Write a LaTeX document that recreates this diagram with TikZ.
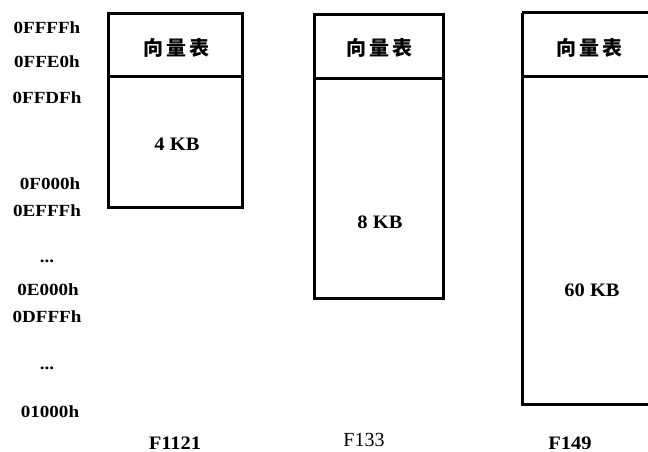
\documentclass[tikz,border=0pt]{standalone}
\usepackage{fontspec}
\setmainfont{Liberation Serif}
\newfontfamily\cjk{Noto Sans CJK SC}
\begin{document}
\begin{tikzpicture}[x=1pt,y=-1pt,
  membox/.style={line width=3pt, line join=miter},
  addr/.style={font=\fontsize{17}{17}\selectfont\bfseries, inner sep=0pt, xscale=1.12},
  vec/.style={font=\fontsize{20}{20}\selectfont\cjk\bfseries, inner sep=0pt},
  size/.style={font=\fontsize{19}{19}\selectfont\bfseries, inner sep=0pt, xscale=1.08},
  chip/.style={font=\fontsize{19}{19}\selectfont\bfseries, inner sep=0pt, xscale=1.08}]
\useasboundingbox (0,0) rectangle (648,452);
\clip (0,0) rectangle (648,452);
\fill[white] (0,0) rectangle (648,452);

% box 1: F1121
\draw[membox] (108,14) rectangle (242,207);
\draw[membox] (108,77) -- (242,77);
\node[vec] (v1) at (176,48) {向\hspace{3pt}量\hspace{3pt}表};
\node[size] (s1) at (177,144) {4 KB};

% box 2: F133
\draw[membox] (314,15) rectangle (443,298);
\draw[membox] (314,79) -- (443,79);
\node[vec] (v2) at (379,48) {向\hspace{3pt}量\hspace{3pt}表};
\node[size] (s2) at (380,222) {8 KB};

% box 3: F149
\draw[membox] (522,13) -- (660,13);
\draw[membox] (522,77) -- (660,77);
\draw[membox] (660,404) -- (522,404) -- (522,13);
\node[vec] (v3) at (589,48) {向\hspace{3pt}量\hspace{3pt}表};
\node[size] (s3) at (592,290) {60 KB};

% address labels
\node[addr] (a1) at (47,28) {0FFFFh};
\node[addr] (a2) at (47,62) {0FFE0h};
\node[addr] (a3) at (47,98) {0FFDFh};
\node[addr] (a4) at (50,184) {0F000h};
\node[addr] (a5) at (47,211) {0EFFFh};
\node[addr] (d1) at (47,261) {...};
\node[addr] (a6) at (48,290) {0E000h};
\node[addr] (a7) at (47,317) {0DFFFh};
\node[addr] (d2) at (47,368) {...};
\node[addr] (a8) at (50,412) {01000h};

% chip names
\node[chip] (c1) at (175,443) {F1121};
\node[font=\fontsize{20}{20}\selectfont, inner sep=0pt] (c2) at (364,440) {F133};
\node[chip] (c3) at (570,443) {F149};
\end{tikzpicture}
\end{document}
